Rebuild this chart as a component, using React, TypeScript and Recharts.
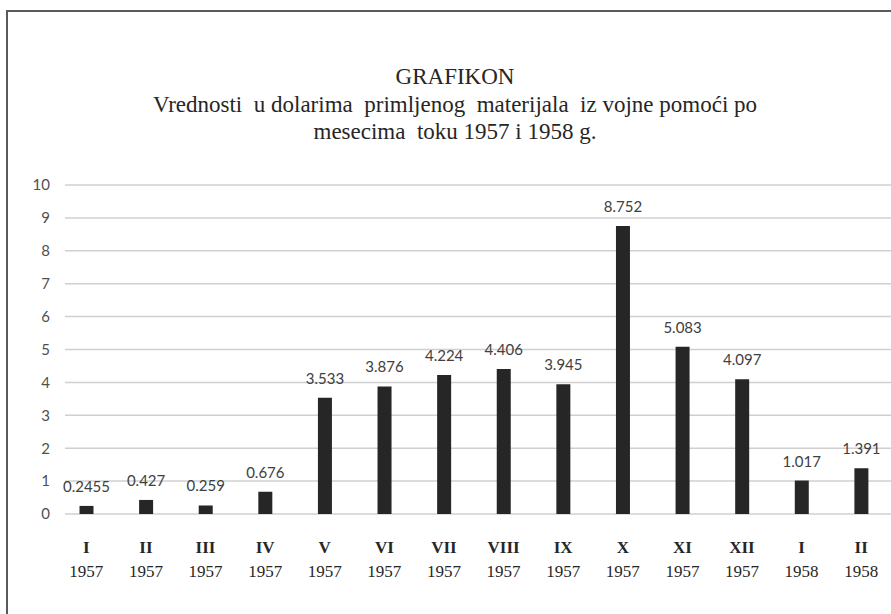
import React from "react";
import { BarChart, Bar, XAxis, YAxis, CartesianGrid, LabelList } from "recharts";

// months and values (millions of dollars)
const months = ["I", "II", "III", "IV", "V", "VI", "VII", "VIII", "IX", "X", "XI", "XII", "I", "II"];
const years = ["1957", "1957", "1957", "1957", "1957", "1957", "1957", "1957", "1957", "1957", "1957", "1957", "1958", "1958"];
const values = [0.2455, 0.427, 0.259, 0.676, 3.533, 3.876, 4.224, 4.406, 3.945, 8.752, 5.083, 4.097, 1.017, 1.391];
const yTicks = [0, 1, 2, 3, 4, 5, 6, 7, 8, 9, 10];

const data = months.map((m, i) => ({ key: i, month: m, year: years[i], value: values[i] }));

const serif = "Liberation Serif, DejaVu Serif, Times New Roman, serif";
const sans = "Lato, Open Sans, sans-serif";

const MonthTick = (props: any) => {
  const { x, y, payload } = props;
  const row = data[payload.value];
  return (
    <g transform={`translate(${x},${y})`}>
      <text x={0} y={31} textAnchor="middle" style={{ fontFamily: serif }} fontSize={17} fontWeight="bold" fill="#262626">
        {row.month}
      </text>
      <text x={0} y={55} textAnchor="middle" style={{ fontFamily: serif }} fontSize={17} fill="#262626">
        {row.year}
      </text>
    </g>
  );
};

const App = () => {
  return (
    <div style={{ position: "absolute", left: 0, top: 0, width: 891, height: 614, background: "#fff", overflow: "hidden" }}>
      <div
        style={{
          position: "absolute",
          left: 6,
          top: 10,
          width: 900,
          height: 620,
          borderLeft: "2px solid #5a5a5a",
          borderTop: "2px solid #5a5a5a",
        }}
      />
      <div
        style={{
          position: "absolute",
          left: 5,
          width: 900,
          top: 63,
          textAlign: "center",
          fontFamily: serif,
          color: "#262626",
          fontSize: 23,
          lineHeight: "27.5px",
          whiteSpace: "pre",
        }}
      >
        <div>GRAFIKON</div>
        <div>Vrednosti  u dolarima  primljenog  materijala  iz vojne pomoći po</div>
        <div>mesecima  toku 1957 i 1958 g.</div>
      </div>
      <div style={{ position: "absolute", left: 0, top: 0 }}>
        <BarChart width={891} height={614} data={data} margin={{ top: 185, right: 0, bottom: 0, left: 0 }}>
          <CartesianGrid horizontal vertical={false} stroke="#d0d0d0" strokeWidth={1.5} />
          <XAxis
            dataKey="key"
            type="category"
            height={100}
            axisLine={false}
            tickLine={false}
            interval={0}
            padding={{ left: -8.5, right: 0 }}
            tick={<MonthTick />}
          />
          <YAxis
            width={65}
            domain={[0, 10]}
            ticks={yTicks}
            axisLine={false}
            tickLine={false}
            tickSize={0}
            tickMargin={15}
            tick={{ fill: "#505050", fontSize: 15, fontFamily: sans }}
          />
          <Bar dataKey="value" fill="#262626" barSize={14} isAnimationActive={false}>
            <LabelList dataKey="value" position="top" offset={14} fill="#404040" fontSize={15} fontFamily={sans} />
          </Bar>
        </BarChart>
      </div>
    </div>
  );
};

export default App;
